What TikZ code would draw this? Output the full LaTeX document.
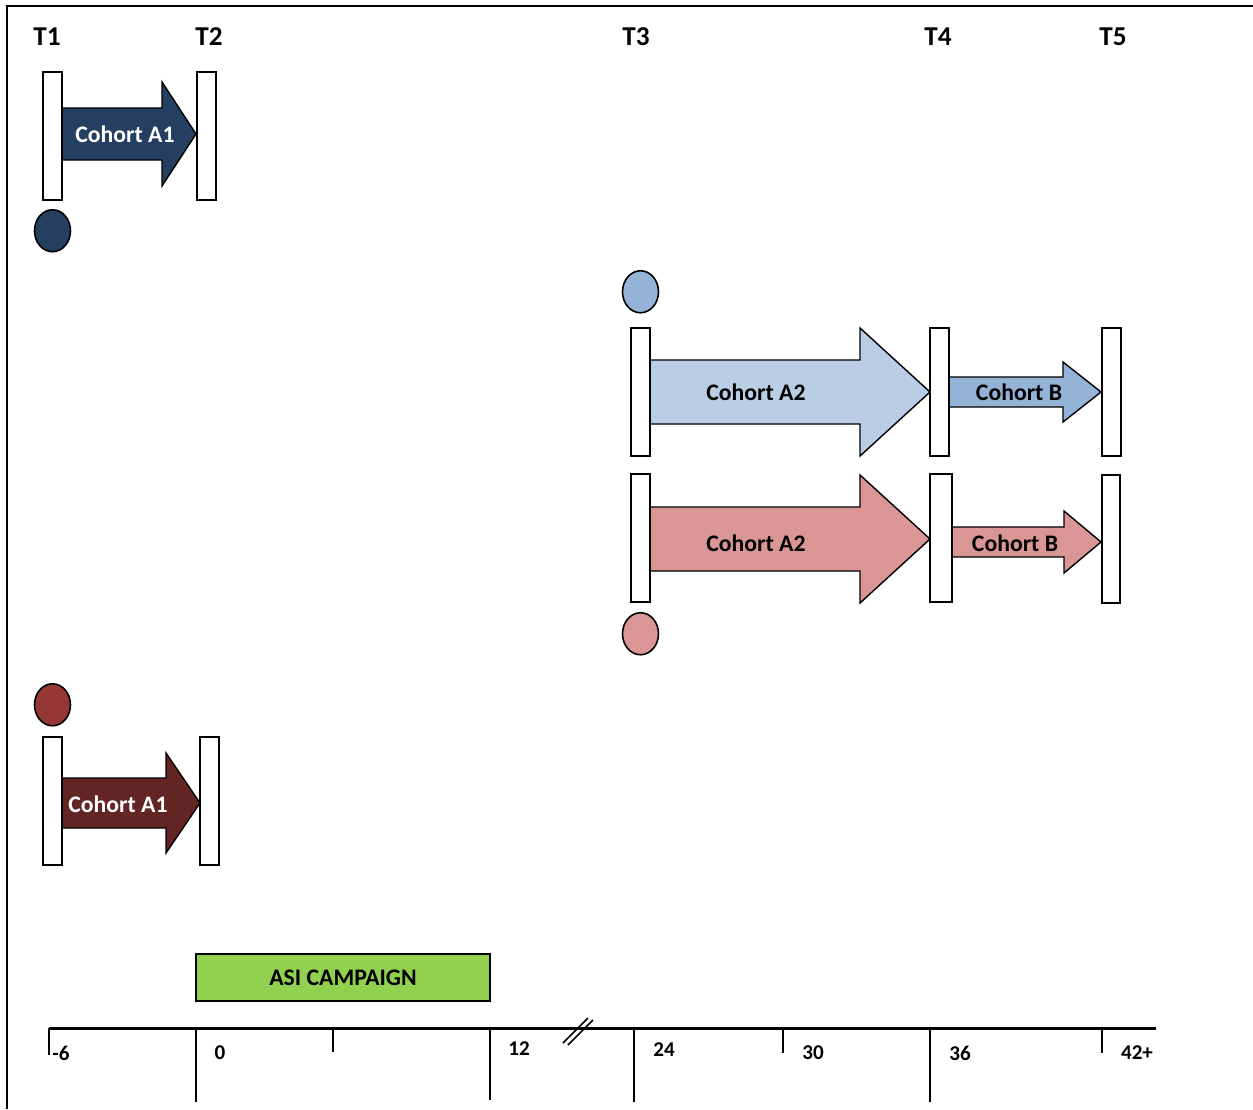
\documentclass[tikz,border=0pt]{standalone}
\usepackage{fontspec}
\setmainfont{Carlito}
\usetikzlibrary{positioning,shapes.geometric}
\definecolor{cohortnavy}{RGB}{36,63,96}
\definecolor{cohortmaroon}{RGB}{99,37,35}
\definecolor{dotmaroon}{RGB}{149,55,53}
\definecolor{cohortsky}{RGB}{185,205,229}
\definecolor{cohortblue}{RGB}{149,179,215}
\definecolor{cohortrose}{RGB}{217,150,148}
\definecolor{campaigngreen}{RGB}{146,208,80}

% block arrow: style, left x, head start x, tip x, mid y, shaft half, head half
\newcommand{\cohortarrow}[7]{%
  \draw[#1] (#2,#5-#6) -- (#3,#5-#6) -- (#3,#5-#7) -- (#4,#5) -- (#3,#5+#7)
    -- (#3,#5+#6) -- (#2,#5+#6) -- cycle;}

\begin{document}
\begin{tikzpicture}[
    x=0.02cm, y=-0.02cm,
    every node/.style={font=\bfseries, inner sep=0pt},
    timebar/.style={rectangle, draw=black, fill=white, line width=1.1pt, minimum width=0.38cm, minimum height=2.56cm},
    dot/.style={ellipse, draw=black, line width=0.9pt, minimum width=0.72cm, minimum height=0.84cm},
    flow/.style={draw=black, line width=0.8pt},
    timelabel/.style={font=\fontsize{15.5}{18}\selectfont\bfseries},
    cohortlabel/.style={font=\fontsize{13.5}{16}\selectfont\bfseries},
    ticklabel/.style={font=\fontsize{12}{14}\selectfont\bfseries},
    tick/.style={line width=0.9pt}
]
\useasboundingbox (0,0) rectangle (1253,1109);

% frame
\draw[line width=1.1pt] (7,1109) -- (7,6) -- (1253,6);

% time points
\node[timelabel] (T1) at (47,37) {T1};
\node[timelabel] (T2) at (209,37) {T2};
\node[timelabel] (T3) at (636,37) {T3};
\node[timelabel] (T4) at (938,37) {T4};
\node[timelabel] (T5) at (1113,37) {T5};

% cohort A1, top
\cohortarrow{flow, fill=cohortnavy}{62}{162}{196}{134}{26}{52}
\node[timebar] (topT1) at (52.5,136) {};
\node[timebar] (topT2) at (206.5,136) {};
\node[cohortlabel, text=white] (topA1) at (125,134) {Cohort A1};
\node[dot, fill=cohortnavy, below=0.16cm of topT1] (topdot) {};

% cohort A2 and B, blue
\cohortarrow{flow, fill=cohortsky}{650}{860}{930}{392}{32}{64}
\cohortarrow{flow, fill=cohortblue}{948}{1063}{1101}{392}{15}{30}
\node[timebar] (blueT3) at (640.5,392) {};
\node[timebar] (blueT4) at (939.5,392) {};
\node[timebar] (blueT5) at (1111.5,392) {};
\node[cohortlabel] (blueA2) at (756,392) {Cohort A2};
\node[cohortlabel] (blueB) at (1019,392) {Cohort B};
\node[dot, fill=cohortblue, above=0.27cm of blueT3] (bluedot) {};

% cohort A2 and B, red
\cohortarrow{flow, fill=cohortrose}{650}{860}{930}{539}{32}{64}
\cohortarrow{flow, fill=cohortrose}{952}{1064}{1101}{542}{15}{31}
\node[timebar] (redT3) at (640.5,538) {};
\node[timebar, minimum width=0.44cm] (redT4) at (941,538) {};
\node[timebar, minimum width=0.36cm] (redT5) at (1111,539) {};
\node[cohortlabel] (redA2) at (756,543) {Cohort A2};
\node[cohortlabel] (redB) at (1015,543) {Cohort B};
\node[dot, fill=cohortrose, below=0.18cm of redT3] (reddot) {};

% cohort A1, bottom
\cohortarrow{flow, fill=cohortmaroon}{62}{166}{200}{803}{25}{50}
\node[timebar] (lowT1) at (52.5,801) {};
\node[timebar] (lowT2) at (209.5,801) {};
\node[cohortlabel, text=white] (lowA1) at (118,804) {Cohort A1};
\node[dot, fill=dotmaroon, above=0.19cm of lowT1] (lowdot) {};

% campaign
\node[rectangle, draw=black, fill=campaigngreen, line width=0.9pt, minimum width=5.88cm, minimum height=0.94cm, font=\fontsize{13.5}{16}\selectfont\bfseries] (asi) at (343,977.5) {ASI CAMPAIGN};

% time axis (months)
\coordinate (axisL) at (49,1028);
\coordinate (axisR) at (1156,1028);
\draw[line width=1.7pt] (axisL) -- (axisR);
\foreach \x/\y in {49/1055, 196/1102, 333/1052, 490/1100, 634/1102, 783/1053, 930/1102, 1102/1053}
  \draw[tick] (\x,1028) -- (\x,\y);
\foreach \x/\y/\t in {61/1053/-6, 220/1053/0, 519/1049/12, 664/1050/24, 813/1053/30, 960/1053/36, 1137/1053/42+}
  \node[ticklabel] at (\x,\y) {\t};

% axis break
\draw[tick] (563,1043) -- (588,1018);
\draw[tick] (568,1045) -- (593,1020);

\end{tikzpicture}
\end{document}
